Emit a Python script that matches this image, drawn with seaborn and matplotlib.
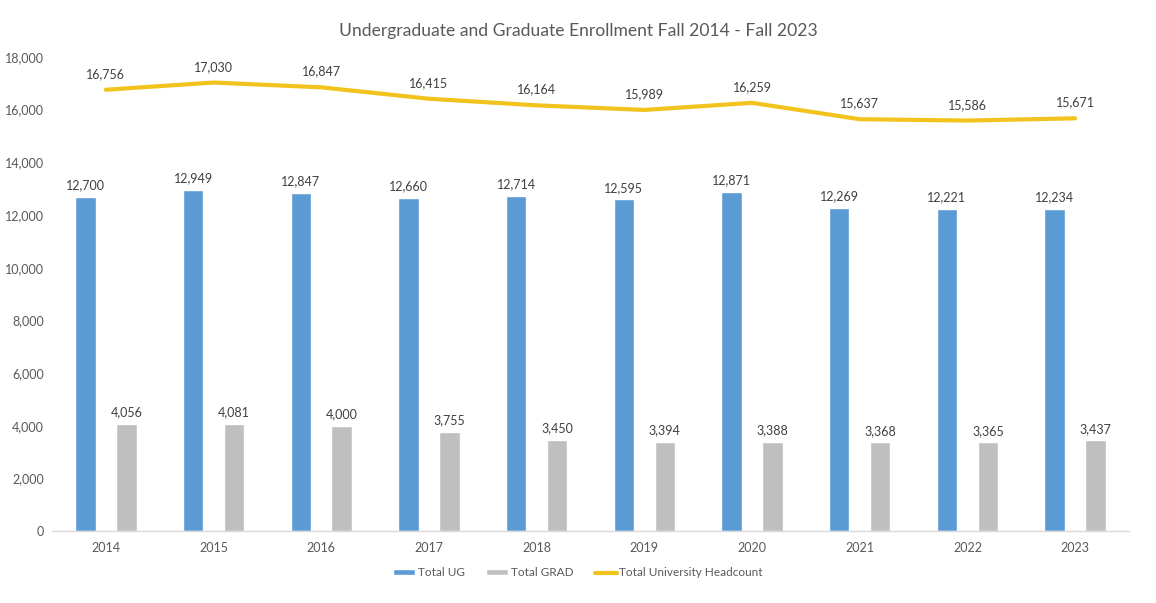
import numpy as np
import pandas as pd
import matplotlib
matplotlib.use("Agg")
import matplotlib.pyplot as plt
import seaborn as sns
from matplotlib.lines import Line2D
from matplotlib.patches import Patch

years = ["2014", "2015", "2016", "2017", "2018", "2019", "2020", "2021", "2022", "2023"]
total_ug = [12700, 12949, 12847, 12660, 12714, 12595, 12871, 12269, 12221, 12234]
total_grad = [4056, 4081, 4000, 3755, 3450, 3394, 3388, 3368, 3365, 3437]
total_headcount = [16756, 17030, 16847, 16415, 16164, 15989, 16259, 15637, 15586, 15671]
series_names = ["Total UG", "Total GRAD", "Total University Headcount"]
y_ticks = [0, 2000, 4000, 6000, 8000, 10000, 12000, 14000, 16000, 18000]
title = "Undergraduate and Graduate Enrollment Fall 2014 - Fall 2023"

BLUE = "#5B9BD5"
GRAY = "#BFBFBF"
GOLD = "#F2C31C"
TXT = "#595959"

sns.set_theme(style="white")
plt.rcParams["font.family"] = ["Lato", "DejaVu Sans"]

bars = pd.DataFrame({
    "year": years * 2,
    "value": total_ug + total_grad,
    "series": [series_names[0]] * len(years) + [series_names[1]] * len(years),
})
line_df = pd.DataFrame({"pos": np.arange(len(years)), "value": total_headcount})

fig = plt.figure(figsize=(11.56, 6.03), dpi=100)
ax = fig.add_axes([0.045, 0.1194, 0.9316, 0.7861])

sns.barplot(data=bars, x="year", y="value", hue="series", order=years,
            palette=[BLUE, GRAY], width=0.76, gap=0.5, ax=ax, legend=False,
            saturation=1)
sns.lineplot(data=line_df, x="pos", y="value", color=GOLD, linewidth=3, ax=ax,
             legend=False)

for cont in ax.containers:
    ax.bar_label(cont, labels=[f"{v:,.0f}" for v in cont.datavalues],
                 padding=4, fontsize=9, color="#404040")
for i, v in enumerate(total_headcount):
    ax.annotate(f"{v:,.0f}", (i, v), xytext=(0, 7), textcoords="offset points",
                ha="center", va="bottom", fontsize=9, color="#404040")

ax.set_xlim(-0.5, len(years) - 0.5)
ax.set_ylim(0, 18000)
ax.set_yticks(y_ticks)
ax.set_yticklabels([f"{t:,}" for t in y_ticks])
ax.set_xlabel("")
ax.set_ylabel("")
ax.tick_params(axis="both", length=0, labelsize=9, labelcolor=TXT)
ax.tick_params(axis="x", pad=8)
ax.tick_params(axis="y", pad=6)
for s in ["top", "right", "left"]:
    ax.spines[s].set_visible(False)
ax.spines["bottom"].set_color("#D9D9D9")
ax.spines["bottom"].set_linewidth(1)

fig.text(0.5, 0.948, title, ha="center", va="center", fontsize=12.6, color=TXT)

handles = [Patch(facecolor=BLUE), Patch(facecolor=GRAY),
           Line2D([0], [0], color=GOLD, linewidth=3)]
fig.legend(handles, series_names, loc="center", bbox_to_anchor=(0.5, 0.05),
           ncol=3, frameon=False, fontsize=8.5, labelcolor=TXT,
           handlelength=1.9, handleheight=0.35, columnspacing=1.8, handletextpad=0.2)

fig.savefig("out.png", dpi=100, facecolor="white")
